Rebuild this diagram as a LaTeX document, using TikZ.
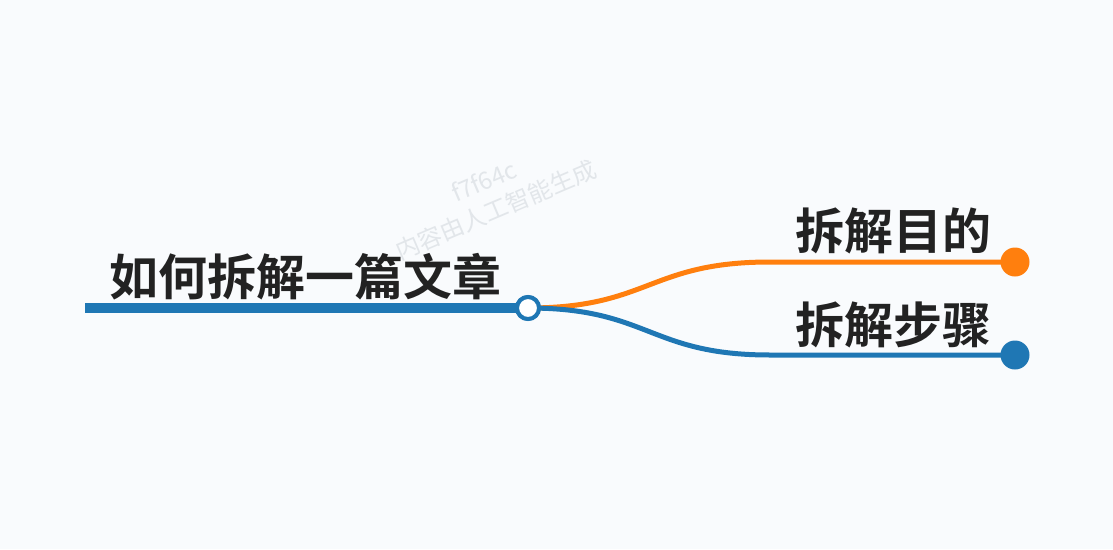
\documentclass[tikz,border=0pt]{standalone}
\usepackage{fontspec}
\usepackage{tikz}
\usetikzlibrary{positioning,calc}
\newfontfamily\cjk{Noto Sans CJK SC}[BoldFont={* Bold}]
\definecolor{bgcol}{RGB}{249,251,253}
\definecolor{bluecol}{RGB}{31,119,180}
\definecolor{orangecol}{RGB}{255,127,14}
\definecolor{txtcol}{RGB}{34,34,34}
\definecolor{wmcol}{RGB}{226,230,234}
\tikzset{
  title/.style  ={font=\cjk\bfseries\fontsize{49}{52}\selectfont, text=txtcol,
                  inner sep=0pt, anchor=base},
  hub/.style    ={circle, draw=bluecol, line width=4pt, fill=white,
                  minimum size=22pt, inner sep=0pt},
  leaf/.style   ={circle, minimum size=29pt, inner sep=0pt},
  branch/.style ={line width=5pt},
  wmark/.style  ={font=\cjk\fontsize{24}{31}\selectfont, text=wmcol, rotate=23,
                  align=center},
}
\begin{document}
\begin{tikzpicture}[x=1pt,y=-1pt]
    % canvas
    \fill[bgcol] (0,0) rectangle (1113,549);
    \useasboundingbox (0,0) rectangle (1113,549);

    % watermark
    \node[wmark] (wm) at (490,196) {f7f64c\\内容由人工智能生成};

    % root
    \coordinate (start) at (85,308);
    \node[hub] (hub) at (528,308) {};
    \node[title] (root) at (305,295) {如何拆解一篇文章};

    % leaves
    \node[leaf, fill=orangecol] (purpose) at (1015,262) {};
    \node[leaf, fill=bluecol] (steps) at (1015,355) {};
    \coordinate (pbend) at (770,262);
    \coordinate (sbend) at (770,355);
    \node[title] (ptext) at (893,249) {拆解目的};
    \node[title] (stext) at (893,343) {拆解步骤};

    % connectors
    \draw[branch, orangecol] (hub.center) .. controls (649,308) and (649,262) .. (pbend) -- (purpose.center);
    \draw[branch, bluecol] (hub.center) .. controls (649,308) and (649,355) .. (sbend) -- (steps.center);
    \draw[bluecol, line width=10pt] (start) -- (hub.center);
    \node[hub] at (hub) {};
  \end{tikzpicture}
\end{document}
